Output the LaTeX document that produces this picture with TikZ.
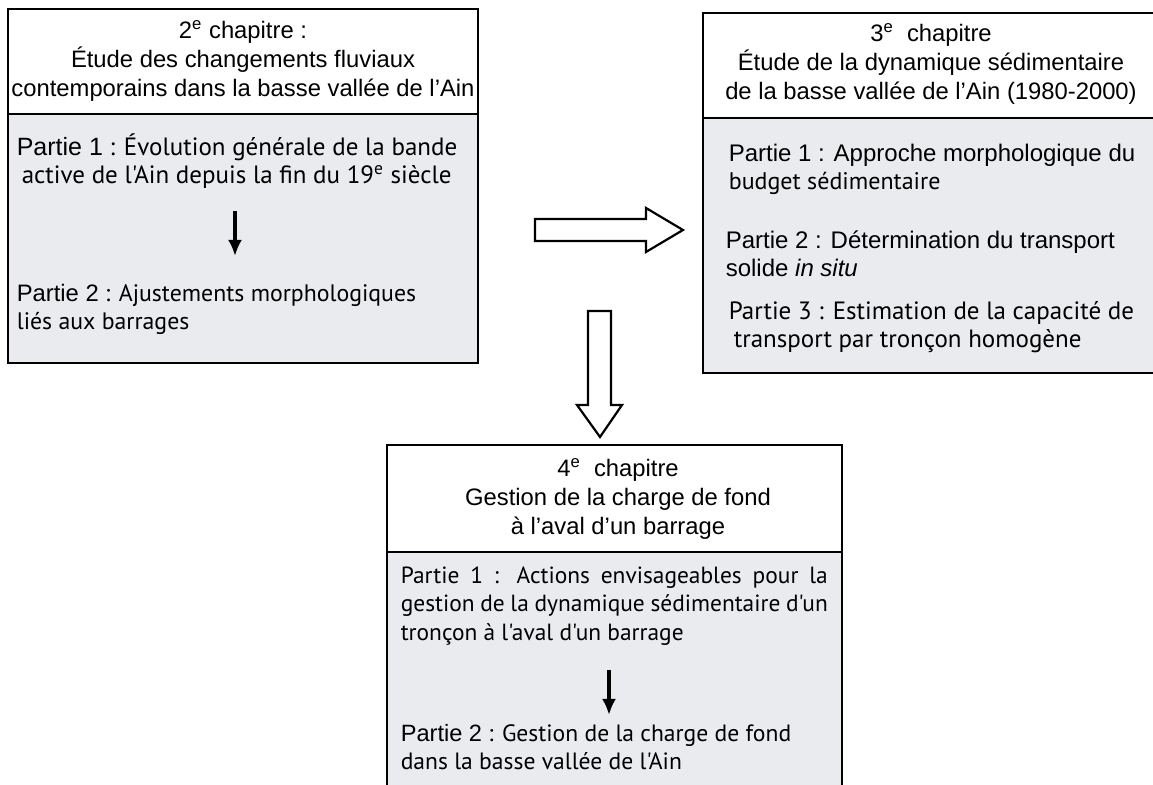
\documentclass[tikz,border=0pt]{standalone}
\usepackage{fontspec}
\setmainfont{Liberation Sans}
\newfontfamily\myriad{PT Sans}
\usepackage{xcolor}
\usetikzlibrary{positioning, arrows.meta}
\definecolor{panelgrey}{RGB}{234,235,238}

\begin{document}
\begin{tikzpicture}[x=0.5pt, y=-0.5pt, thick]
    \tikzstyle{frame} = [draw, line width=1.1pt, fill=white]
    \tikzstyle{body} = [draw, line width=1.1pt, fill=panelgrey]
    \tikzstyle{title} = [align=center, inner sep=0pt, font=\fontsize{11.9}{14.5}\selectfont]
    \tikzstyle{part} = [align=left, anchor=west, inner sep=0pt, font=\myriad\fontsize{12.5}{14}\selectfont]
    \tikzstyle{line} = [draw, -{Latex[length=8pt, width=7pt]}, line width=1.6pt]
    \tikzstyle{hollow} = [draw, line width=1.1pt, fill=white, line join=miter]

    \useasboundingbox (0,0) rectangle (1153,785);

    % chapter frames
    \draw [frame] (8,9) rectangle (478,114);
    \draw [body] (8,114) rectangle (478,363);
    \draw [frame] (703,13) rectangle (1165,118);
    \draw [body] (703,118) rectangle (1165,373);
    \draw [frame] (387,445) rectangle (842,552);
    \draw [body] (387,552) rectangle (842,800);

    % 2e chapitre
    \node [title] (ch2) at (243,61) {2\textsuperscript{e} chapitre :\\
        \'Etude des changements fluviaux\\
        contemporains dans la basse vall\'ee de l'Ain};
    \node [part] (ch2p1) at (16,161) {{\rmfamily Partie 1} : \'Evolution g\'en\'erale de la bande\\
        \hspace*{2.5pt}active de l'Ain depuis la fin du 19\textsuperscript{e} si\`ecle};
    \node [part, font=\myriad\fontsize{11.9}{14}\selectfont] (ch2p2) at (16,309) {{\rmfamily Partie 2} : Ajustements morphologiques\\
        li\'es aux barrages};
    \coordinate (ch2from) at (235,211);
    \coordinate (ch2to) at (235,256);
    \path [line] (ch2from) -- (ch2to);

    % 3e chapitre
    \node [title] (ch3) at (931,64) {3\textsuperscript{e}\ \ chapitre\\
        \'Etude de la dynamique s\'edimentaire\\
        de la basse vall\'ee de l'Ain (1980-2000)};
    \node [part, font=\myriad\fontsize{12}{14}\selectfont] (ch3p1) at (728,169) {{\rmfamily Partie 1 : Approche morphologique du}\\
        budget s\'edimentaire};
    \node [part, font=\fontsize{12}{14}\selectfont] (ch3p2) at (725,254) {Partie 2 : D\'etermination du transport\\
        solide \textit{in situ}};
    \node [part] (ch3p3) at (728,327) {Partie 3 : Estimation de la capacit\'e de\\
        \hspace*{2.5pt}transport par tron\c{c}on homog\`ene};

    % 4e chapitre
    \node [title] (ch4) at (618,499) {4\textsuperscript{e}\ \ chapitre\\
        Gestion de la charge de fond\\
        \`a l'aval d'un barrage};
    \node [part, text width=213.5pt, align=justify, font=\myriad\fontsize{11.7}{14.3}\selectfont] (ch4p1) at (400,606) {Partie 1 : Actions envisageables pour la\linebreak
        gestion de la dynamique s\'edimentaire d'un\linebreak
        tron\c{c}on \`a l'aval d'un barrage};
    \node [part, font=\myriad\fontsize{11.8}{14.3}\selectfont] (ch4p2) at (400,747) {{\rmfamily Partie 2} : Gestion de la charge de fond\\
        dans la basse vall\'ee de l'Ain};
    \coordinate (ch4from) at (609,670);
    \coordinate (ch4to) at (609,715);
    \path [line] (ch4from) -- (ch4to);

    % hollow block arrows between chapters
    \draw [hollow] (535,219) -- (646,219) -- (646,208) -- (683,230) -- (646,252) -- (646,241) -- (535,241) -- cycle;
    \draw [hollow] (588,311) -- (611,311) -- (611,405) -- (622,405) -- (600,437) -- (577,405) -- (588,405) -- cycle;
\end{tikzpicture}
\end{document}
